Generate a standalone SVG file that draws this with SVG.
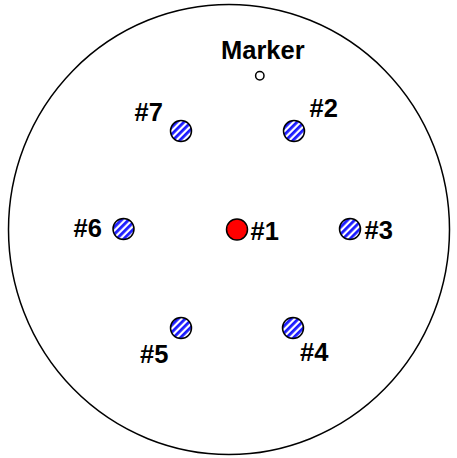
<svg xmlns="http://www.w3.org/2000/svg" width="457" height="458" viewBox="0 0 457 458">
<style>
.lbl{font-family:"Liberation Sans",Arial,sans-serif;font-weight:bold;font-size:25.5px;fill:#000}
.hole{fill:url(#hatch);stroke:#000;stroke-width:1.5}
</style>
<defs>
<pattern id="hatch" patternUnits="userSpaceOnUse" width="5" height="5" patternTransform="rotate(45)">
<rect width="5" height="5" fill="#ffffff"/>
<rect width="2.8" height="5" fill="#1a1aff"/>
</pattern>
</defs>
<rect width="457" height="458" fill="#fff"/>
<g id="outline"><ellipse cx="229" cy="229.5" rx="220.5" ry="225" fill="none" stroke="#000" stroke-width="1.5"/></g>
<g id="marker"><circle cx="259.8" cy="75.7" r="4.2" fill="#fff" stroke="#000" stroke-width="1.5"/><text class="lbl" x="221" y="58.5">Marker</text></g>
<g id="n1"><circle cx="237" cy="229.5" r="10.5" fill="#ff0000" stroke="#000" stroke-width="1.5"/><text class="lbl" x="250.5" y="240">#1</text></g>
<g id="n2"><circle class="hole" cx="294" cy="131" r="10.5"/><text class="lbl" x="309.5" y="117">#2</text></g>
<g id="n3"><circle class="hole" cx="350" cy="229" r="10.5"/><text class="lbl" x="364.5" y="239">#3</text></g>
<g id="n4"><circle class="hole" cx="293" cy="328" r="10.5"/><text class="lbl" x="300" y="361">#4</text></g>
<g id="n5"><circle class="hole" cx="181" cy="328" r="10.5"/><text class="lbl" x="140" y="363">#5</text></g>
<g id="n6"><circle class="hole" cx="123.5" cy="229" r="10.5"/><text class="lbl" x="73.5" y="237">#6</text></g>
<g id="n7"><circle class="hole" cx="181" cy="131" r="10.5"/><text class="lbl" x="134.5" y="121">#7</text></g>
<g id="connectors"></g>
</svg>
